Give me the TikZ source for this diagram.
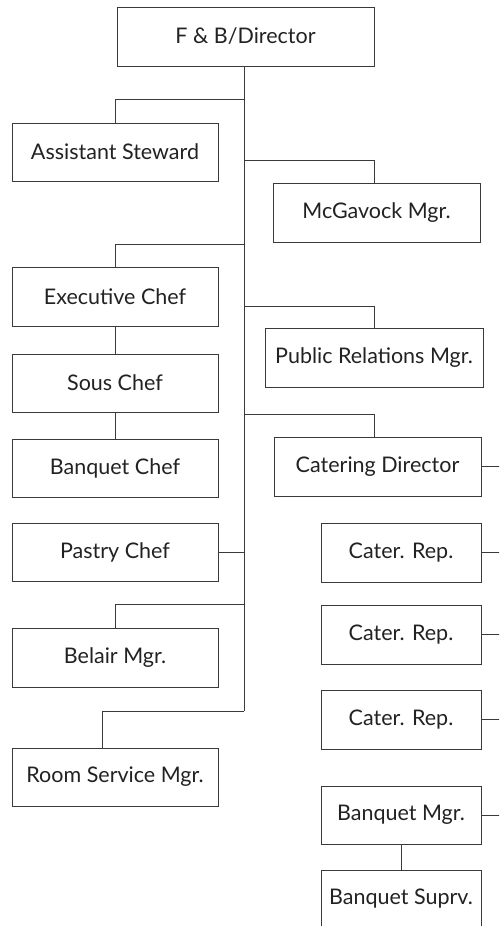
\documentclass[tikz,border=0pt]{standalone}
\usepackage{fontspec}
\setmainfont{Lato}
\definecolor{ln}{HTML}{3A3A3A}
\definecolor{tx}{HTML}{222222}
\begin{document}
\begin{tikzpicture}[x=1pt,y=1pt,
  box/.style={draw=ln,line width=0.9pt,fill=white,minimum height=58pt,inner sep=0pt,text=tx,font=\fontsize{21.5}{24}\selectfont},
  wl/.style={box,minimum width=206pt},
  wr/.style={box,minimum width=160pt},
  conn/.style={draw=ln,line width=0.9pt}]
\useasboundingbox (0,0) rectangle (499,-926);
\clip (0,0) rectangle (499,-926);
\fill[white] (0,0) rectangle (499,-926);
% nodes
\node[box,minimum width=257pt,minimum height=59pt] (fb) at (245.5,-36.5) {F \& B/Director};
\node[wl] (as) at (115,-152) {Assistant Steward};
\node[box,minimum width=207pt,minimum height=59pt] (mc) at (376.5,-212.5) {McGavock Mgr.};
\node[wl,minimum height=59pt] (ec) at (115,-296.5) {Executive Chef};
\node[box,minimum width=218pt,minimum height=59pt] (pr) at (374,-357.5) {Public Relations Mgr.};
\node[wl] (sc) at (115,-383) {Sous Chef};
\node[wl] (bc) at (115,-468) {Banquet Chef};
\node[box,minimum width=207pt,minimum height=59pt] (cd) at (377.5,-466.5) {Catering Director};
\node[wl] (pc) at (115,-552) {Pastry Chef};
\node[wr,minimum height=59pt] (cr1) at (401,-552.5) {Cater. Rep.};
\node[wr,minimum height=59pt] (cr2) at (401,-634.5) {Cater. Rep.};
\node[wl,minimum height=59pt] (bm) at (115,-657.5) {Belair Mgr.};
\node[wr,minimum height=59pt] (cr3) at (401,-719.5) {Cater. Rep.};
\node[wl] (rs) at (115,-777) {Room Service Mgr.};
\node[wr] (bq) at (401,-815) {Banquet Mgr.};
\node[wr] (bs) at (401,-899) {Banquet Suprv.};
% trunk coordinates
\coordinate (ttop) at (244,-66);
\coordinate (tEnd) at (244,-711);
\coordinate (b1) at (244,-99);
\coordinate (b2) at (244,-160);
\coordinate (b3) at (244,-244);
\coordinate (b4) at (244,-306);
\coordinate (b5) at (244,-414);
\coordinate (b6) at (244,-604);
\coordinate (redge) at (505,0);
% connectors
\draw[conn] (ttop) -- (tEnd);
\draw[conn] (b1) -| (as.north);
\draw[conn] (b2) -| (374,-183) coordinate (mcin);
\draw[conn] (b3) -| (ec.north);
\draw[conn] (b4) -| (374,-328) coordinate (prin);
\draw[conn] (b5) -| (374,-437) coordinate (cdin);
\draw[conn] (b6) -| (bm.north);
\draw[conn] (pc.east) -- (pc.east -| tEnd);
\draw[conn] (tEnd) -| ([xshift=-13pt]rs.north);
\draw[conn] (ec.south) -- (sc.north);
\draw[conn] (sc.south) -- (bc.north);
\draw[conn] (bq.south) -- (bs.north);
\foreach \n in {cd,cr1,cr2,cr3,bq} \draw[conn] (\n.east) -- (\n.east -| redge);
\end{tikzpicture}
\end{document}
